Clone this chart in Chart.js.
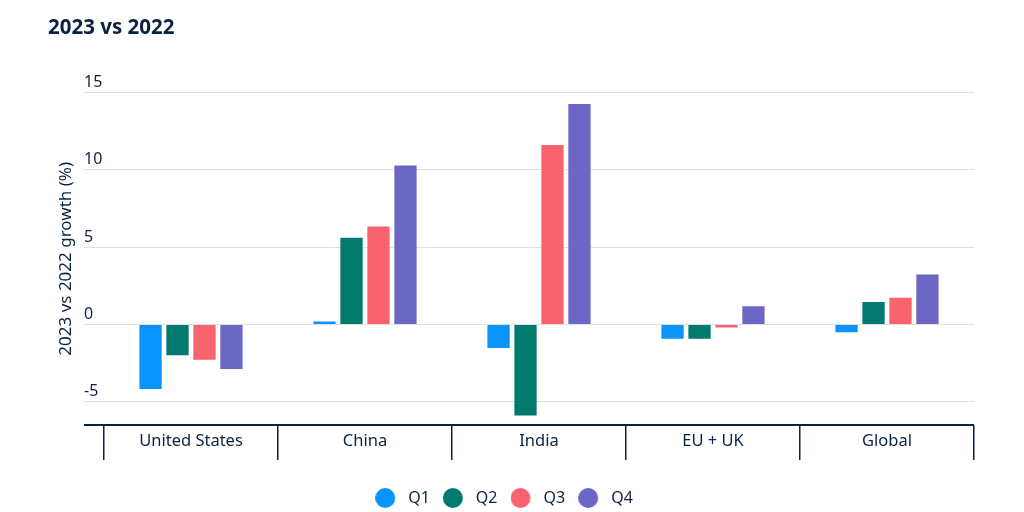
<!DOCTYPE html>
<html>
<head>
<meta charset="utf-8">
<script src="https://cdn.jsdelivr.net/npm/chart.js@4.4.1/dist/chart.umd.min.js"></script>
<style>
  html, body { margin: 0; padding: 0; background: #fff; }
  #wrap { width: 1024px; height: 512px; }
</style>
</head>
<body>
<div id="wrap"><canvas id="myChart"></canvas></div>
<script>
// dados
var regioes = ['United States', 'China', 'India', 'EU + UK', 'Global'];
var trimestres = ['Q1', 'Q2', 'Q3', 'Q4'];
var q1 = [-4.24, 0.26, -1.58, -0.99, -0.56];
var q2 = [-2.05, 5.67, -5.95, -0.99, 1.52];
var q3 = [-2.34, 6.41, 11.67, -0.26, 1.8];
var q4 = [-2.95, 10.35, 14.33, 1.25, 3.3];
var yTicks = [-5, 0, 5, 10, 15];

var cores = ['#0a93fb', '#00796f', '#f7646d', '#6c67c5'];
var navy = '#0c2340';
var yMin = -6.5, yMax = 15;

// bolinha da legenda com espaco a direita
function bolinha(cor) {
  var c = document.createElement('canvas');
  c.width = 25; c.height = 20;
  var g = c.getContext('2d');
  g.fillStyle = cor;
  g.beginPath();
  g.arc(10, 10, 10, 0, Math.PI * 2);
  g.fill();
  return c;
}

// puxa a legenda um pouco pra esquerda
var moveLegenda = {
  id: 'moveLegenda',
  afterLayout: function (chart) {
    chart.legend.left -= 7;
    chart.legend.right -= 7;
  }
};

var series = [q1, q2, q3, q4];
var datasets = [];
for (var i = 0; i < series.length; i++) {
  datasets.push({
    label: trimestres[i],
    data: series[i],
    backgroundColor: cores[i],
    borderColor: 'rgba(255, 255, 255, 0.35)',
    borderWidth: 1,
    pointStyle: bolinha(cores[i]),
    categoryPercentage: 0.62,
    barPercentage: 0.9
  });
}

Chart.defaults.font.family = "'Noto Sans', 'Open Sans', sans-serif";
Chart.defaults.color = navy;

var ctx = document.getElementById('myChart');
var myChart = new Chart(ctx, {
  type: 'bar',
  data: {
    labels: regioes,
    datasets: datasets
  },
  plugins: [moveLegenda],
  options: {
    responsive: true,
    maintainAspectRatio: false,
    animation: false,
    layout: {
      padding: { left: 48, right: 50, top: 16, bottom: -4 }
    },
    plugins: {
      title: {
        display: true,
        text: '2023 vs 2022',
        align: 'start',
        color: navy,
        font: { size: 20.5, weight: 'bold' },
        padding: { top: 0, bottom: 52 }
      },
      legend: {
        position: 'bottom',
        labels: {
          usePointStyle: true,
          pointStyleWidth: 25,
          boxHeight: 14,
          padding: 13,
          color: navy,
          font: { size: 16 }
        }
      },
      tooltip: { enabled: false }
    },
    scales: {
      x: {
        border: { display: false },
        grid: {
          drawOnChartArea: false,
          drawTicks: true,
          tickLength: 35,
          color: navy,
          lineWidth: 1.5
        },
        ticks: {
          padding: -29,
          color: navy,
          font: { size: 16.5 }
        },
        afterFit: function (scale) { scale.height = 52; }
      },
      y: {
        min: yMin,
        max: yMax,
        border: { display: false },
        grid: {
          tickLength: 20,
          color: function (c) { return c.tick && c.tick.value === yMin ? navy : '#dde1e6'; },
          lineWidth: function (c) { return c.tick && c.tick.value === yMin ? 2 : 1; }
        },
        ticks: {
          mirror: true,
          padding: -20,
          labelOffset: -10,
          color: navy,
          font: { size: 16 },
          stepSize: 5,
          callback: function (v) { return yTicks.indexOf(v) >= 0 ? v : ''; }
        },
        title: {
          display: true,
          text: '2023 vs 2022 growth (%)',
          color: navy,
          font: { size: 17 },
          padding: { top: 8, bottom: 0 }
        },
        afterFit: function (scale) { scale.width = 56; }
      }
    }
  }
});
</script>
</body>
</html>
